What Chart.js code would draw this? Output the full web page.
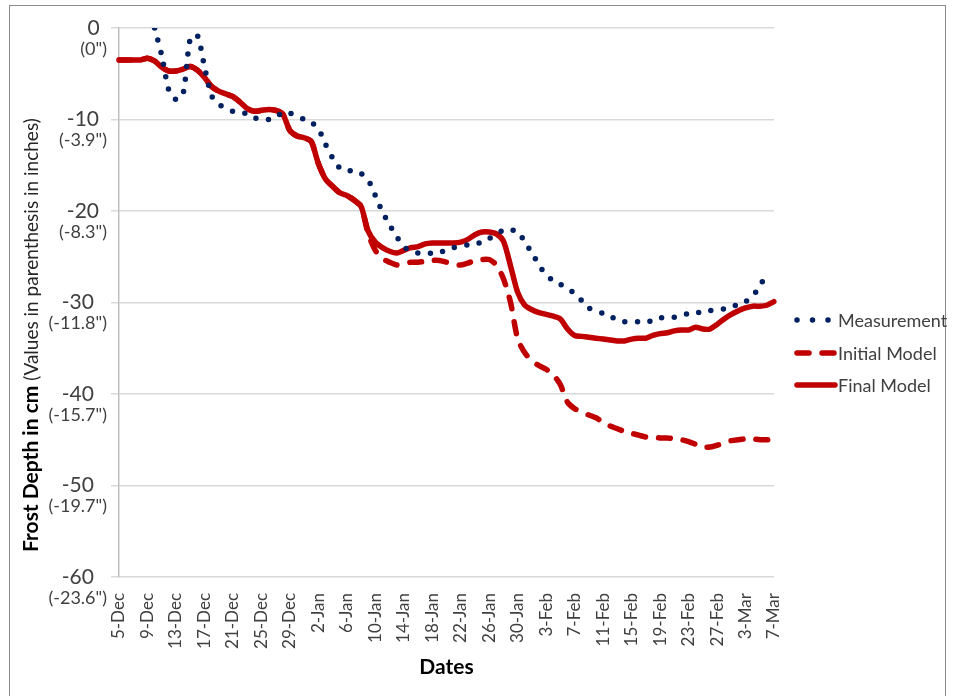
<!DOCTYPE html>
<html>
<head>
<meta charset="utf-8">
<script src="https://cdn.jsdelivr.net/npm/chart.js@4.4.1/dist/chart.umd.min.js"></script>
<style>
  html, body { margin: 0; padding: 0; background: #fff; }
</style>
</head>
<body>
<canvas id="grafico" width="953" height="696"></canvas>
<script>
// dias: 5-Dec al 7-Mar, uno por dia
const meses = ['Jan', 'Feb', 'Mar', 'Apr', 'May', 'Jun', 'Jul', 'Aug', 'Sep', 'Oct', 'Nov', 'Dec'];
const dias = [];
const f = new Date(2014, 11, 5);
for (let i = 0; i < 93; i++) {
    dias.push(f.getDate() + '-' + meses[f.getMonth()]);
    f.setDate(f.getDate() + 1);
}

const etiquetasX = ['5-Dec', '9-Dec', '13-Dec', '17-Dec', '21-Dec', '25-Dec', '29-Dec', '2-Jan',
    '6-Jan', '10-Jan', '14-Jan', '18-Jan', '22-Jan', '26-Jan', '30-Jan', '3-Feb', '7-Feb',
    '11-Feb', '15-Feb', '19-Feb', '23-Feb', '27-Feb', '3-Mar', '7-Mar'];

const valoresY = [0, -10, -20, -30, -40, -50, -60];
const pulgadas = ['(0")', '(-3.9")', '(-8.3")', '(-11.8")', '(-15.7")', '(-19.7")', '(-23.6")'];

const medicion = [null, null, null, null, null, 0, -3.0, -6.8, -7.8, -7.2,
    -1.2, -0.8, -4.2, -7.4, -8.3, -8.8, -9.1, -9.2, -9.4, -9.8,
    -10.0, -10.0, -9.8, -9.2, -9.3, -9.6, -10.0, -10.3, -11.0, -12.7,
    -14.2, -15.3, -15.6, -15.6, -15.9, -16.6, -18.3, -20.1, -21.5, -22.8,
    -23.9, -24.4, -24.6, -24.6, -24.6, -24.5, -24.3, -24.0, -23.9, -23.7,
    -23.6, -23.4, -23.0, -22.5, -22.1, -22.1, -22.2, -23.4, -24.6, -25.9,
    -27.0, -27.6, -28.0, -28.5, -29.0, -29.8, -30.6, -30.9, -31.2, -31.5,
    -31.9, -32.1, -32.1, -32.1, -32.1, -32.0, -31.7, -31.6, -31.6, -31.4,
    -31.2, -31.1, -31.1, -30.9, -30.7, -30.7, -30.5, -30.2, -29.9, -29.3,
    -28.2, -26.8, null];

const modeloInicial = [-3.5, -3.5, -3.5, -3.5, -3.3, -3.6, -4.3, -4.7, -4.7, -4.5,
    -4.2, -4.6, -5.4, -6.4, -6.9, -7.2, -7.5, -8.1, -8.8, -9.1,
    -9.0, -8.9, -9.0, -9.4, -11.2, -11.8, -12.0, -12.4, -14.8, -16.5,
    -17.3, -18.0, -18.3, -18.8, -19.5, -22.5, -24.3, -25.2, -25.6, -25.9,
    -25.8, -25.6, -25.6, -25.5, -25.4, -25.4, -25.6, -25.8, -25.9, -25.7,
    -25.4, -25.3, -25.3, -25.9, -27.4, -30.0, -34.0, -35.5, -36.4, -36.9,
    -37.3, -37.9, -39.0, -40.9, -41.6, -42.0, -42.3, -42.6, -43.1, -43.5,
    -43.8, -44.1, -44.3, -44.5, -44.7, -44.7, -44.8, -44.8, -44.9, -45.0,
    -45.2, -45.5, -45.8, -45.8, -45.6, -45.4, -45.1, -45.0, -44.9, -44.9,
    -45.0, -45.0, -44.9];

const modeloFinal = [-3.5, -3.5, -3.5, -3.5, -3.3, -3.6, -4.3, -4.7, -4.7, -4.5,
    -4.2, -4.6, -5.4, -6.4, -6.9, -7.2, -7.5, -8.1, -8.8, -9.1,
    -9.0, -8.9, -9.0, -9.4, -11.2, -11.8, -12.0, -12.4, -14.8, -16.5,
    -17.3, -18.0, -18.3, -18.8, -19.5, -22.2, -23.4, -24.0, -24.4, -24.6,
    -24.3, -24.0, -23.9, -23.6, -23.5, -23.5, -23.5, -23.5, -23.4, -23.1,
    -22.6, -22.3, -22.3, -22.5, -23.3, -26.0, -28.9, -30.3, -30.8, -31.1,
    -31.3, -31.5, -31.8, -32.9, -33.6, -33.7, -33.8, -33.9, -34.0, -34.1,
    -34.2, -34.2, -34.0, -33.9, -33.9, -33.6, -33.4, -33.3, -33.1, -33.0,
    -33.0, -32.7, -32.9, -32.9, -32.4, -31.8, -31.3, -30.9, -30.6, -30.4,
    -30.4, -30.3, -29.9];

const fuente = 'Lato';

// marco gris alrededor del grafico
const marco = {
    id: 'marco',
    beforeDraw(chart) {
        const ctx = chart.ctx;
        ctx.save();
        ctx.fillStyle = '#fff';
        ctx.fillRect(0, 0, chart.width, chart.height);
        ctx.strokeStyle = '#8c8c8c';
        ctx.lineWidth = 1;
        ctx.strokeRect(9.5, 5.5, 936, 700);
        ctx.restore();
    }
};

// etiquetas del eje Y en dos lineas (cm y pulgadas)
const etiquetasY = {
    id: 'etiquetasY',
    afterDraw(chart) {
        const ctx = chart.ctx;
        const y = chart.scales.y;
        const derecha = y.left - 4;
        ctx.save();
        ctx.fillStyle = '#404040';
        ctx.textAlign = 'center';
        ctx.textBaseline = 'middle';
        valoresY.forEach((v, i) => {
            const py = y.getPixelForValue(v);
            ctx.font = '18px ' + fuente;
            const w2 = ctx.measureText(pulgadas[i]).width;
            ctx.font = '21px ' + fuente;
            const w1 = ctx.measureText(String(v)).width;
            const cx = derecha - Math.max(w1, w2) / 2;
            ctx.fillText(String(v), cx, py);
            ctx.font = '18px ' + fuente;
            ctx.fillText(pulgadas[i], cx, py + 21);
        });

        // titulo del eje Y, con dos tamaños
        ctx.translate(38, 552);
        ctx.rotate(-Math.PI / 2);
        ctx.textAlign = 'left';
        ctx.textBaseline = 'alphabetic';
        ctx.fillStyle = '#000';
        ctx.font = 'bold 21px ' + fuente;
        const t1 = 'Frost Depth in cm';
        ctx.fillText(t1, 0, 0);
        const w = ctx.measureText(t1).width;
        ctx.fillStyle = '#262626';
        ctx.font = '19px ' + fuente;
        ctx.fillText(' (Values in parenthesis in inches)', w, 0);
        ctx.restore();
    }
};

// leyenda a la derecha, con los estilos de cada serie
const leyenda = {
    id: 'leyenda',
    afterDraw(chart) {
        const ctx = chart.ctx;
        const filas = [320, 353, 385];
        chart.data.datasets.forEach((ds, i) => {
            const yy = filas[i];
            ctx.save();
            ctx.strokeStyle = ds.borderColor;
            ctx.lineWidth = ds.borderWidth;
            ctx.lineCap = ds.borderCapStyle || 'butt';
            const punteada = ds.borderDash && ds.borderDash[0] === 0;
            ctx.setLineDash(punteada ? [0, 15.5] : (ds.borderDash || []));
            ctx.beginPath();
            ctx.moveTo(797, yy);
            ctx.lineTo(punteada ? 829 : 835, yy);
            ctx.stroke();
            ctx.restore();

            ctx.save();
            ctx.fillStyle = '#404040';
            ctx.font = '18px ' + fuente;
            ctx.textBaseline = 'middle';
            ctx.fillText(ds.label, 838, yy + 1);
            ctx.restore();
        });
    }
};

new Chart(document.getElementById('grafico'), {
    type: 'line',
    data: {
        labels: dias,
        datasets: [
            {
                label: 'Measurement',
                data: medicion,
                borderColor: '#002060',
                borderWidth: 5.5,
                borderDash: [0, 12.5],
                borderCapStyle: 'round',
                pointRadius: 0,
                tension: 0.25,
                order: 0
            },
            {
                label: 'Initial Model',
                data: modeloInicial,
                borderColor: '#c00000',
                borderWidth: 5.5,
                borderDash: [12, 13],
                borderCapStyle: 'round',
                pointRadius: 0,
                tension: 0.25,
                order: 2
            },
            {
                label: 'Final Model',
                data: modeloFinal,
                borderColor: '#c00000',
                borderWidth: 5.5,
                borderCapStyle: 'round',
                borderJoinStyle: 'round',
                pointRadius: 0,
                tension: 0.25,
                order: 1
            }
        ]
    },
    options: {
        responsive: false,
        animation: false,
        devicePixelRatio: 1,
        layout: { padding: { left: 111, right: 179, top: 28, bottom: 0 } },
        plugins: {
            legend: { display: false },
            tooltip: { enabled: false }
        },
        scales: {
            x: {
                grid: { display: false },
                border: { display: false },
                ticks: {
                    autoSkip: false,
                    minRotation: 90,
                    maxRotation: 90,
                    padding: 8,
                    color: '#404040',
                    font: { family: fuente, size: 17 },
                    callback: function (val, i) {
                        const l = dias[i];
                        return etiquetasX.includes(l) ? l : '';
                    }
                },
                title: {
                    display: true,
                    text: 'Dates',
                    color: '#000',
                    font: { family: fuente, size: 21, weight: 'bold' },
                    padding: { top: 0, bottom: 16 }
                },
                afterFit: function (s) { s.height = 119; }
            },
            y: {
                min: -60,
                max: 0,
                ticks: { stepSize: 10, display: false },
                grid: { color: '#d9d9d9', lineWidth: 1.5, tickLength: 8 },
                border: { color: '#bfbfbf', width: 1.5 },
                afterFit: function (s) { s.width = 8; }
            }
        }
    },
    plugins: [marco, etiquetasY, leyenda]
});
</script>
</body>
</html>
